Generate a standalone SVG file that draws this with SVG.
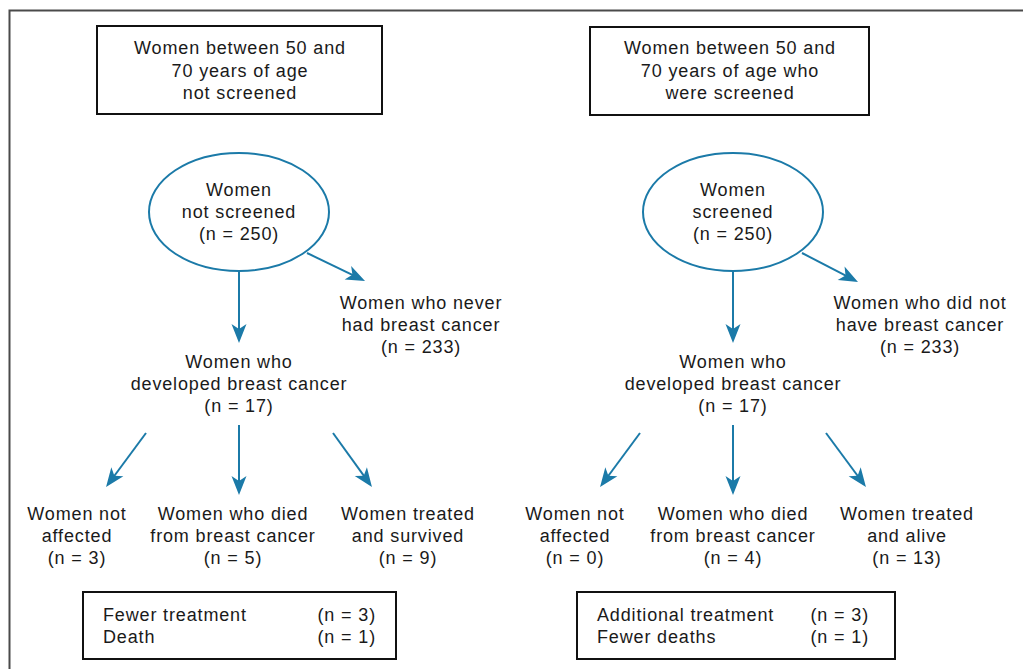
<svg xmlns="http://www.w3.org/2000/svg" width="1023" height="669" viewBox="0 0 1023 669">
<style>
text{font-family:"Liberation Sans",Arial,sans-serif;font-size:18px;letter-spacing:0.85px;fill:#1a1a1a;text-anchor:middle}
text.l{text-anchor:start}
text.r{text-anchor:end}
.box{fill:#fff;stroke:#111;stroke-width:2}
.ell{fill:#fff;stroke:#1b7aa8;stroke-width:2}
.arr{fill:none;stroke:#1b7aa8;stroke-width:2;marker-end:url(#ah)}
</style>
<defs>
<marker id="ah" viewBox="-10 -9 21 18" markerWidth="21" markerHeight="18" refX="0" refY="0" orient="auto" markerUnits="userSpaceOnUse">
<path d="M10,0 L-9,-7.5 L-4,0 L-9,7.5 Z" fill="#1b7aa8"/>
</marker>
</defs>
<rect width="1023" height="669" fill="#fff"/>
<path d="M9.5,669 V10.5 H1023" fill="none" stroke="#4a4a4a" stroke-width="2"/>

<g id="box-not-screened">
<rect class="box" x="97" y="26" width="285" height="88"/>
<text x="240" y="54">Women between 50 and</text>
<text x="240" y="76.5">70 years of age</text>
<text x="240" y="99">not screened</text>
</g>
<g id="box-screened">
<rect class="box" x="590" y="27" width="279" height="88"/>
<text x="730" y="54">Women between 50 and</text>
<text x="730" y="76.5">70 years of age who</text>
<text x="730" y="99">were screened</text>
</g>

<g id="ell-not-screened">
<ellipse class="ell" cx="239" cy="212" rx="90" ry="59"/>
<text x="239" y="196">Women</text>
<text x="239" y="218">not screened</text>
<text x="239" y="240">(n = 250)</text>
</g>
<g id="ell-screened">
<ellipse class="ell" cx="733" cy="212" rx="90" ry="59"/>
<text x="733" y="196">Women</text>
<text x="733" y="218">screened</text>
<text x="733" y="240">(n = 250)</text>
</g>

<g id="never-had">
<text x="421" y="309">Women who never</text>
<text x="421" y="331">had breast cancer</text>
<text x="421" y="353">(n = 233)</text>
</g>
<g id="did-not-have">
<text x="920" y="309">Women who did not</text>
<text x="920" y="331">have breast cancer</text>
<text x="920" y="353">(n = 233)</text>
</g>

<g id="developed-left">
<text x="239" y="368">Women who</text>
<text x="239" y="390">developed breast cancer</text>
<text x="239" y="412">(n = 17)</text>
</g>
<g id="developed-right">
<text x="733" y="368">Women who</text>
<text x="733" y="390">developed breast cancer</text>
<text x="733" y="412">(n = 17)</text>
</g>

<g id="not-affected-left">
<text x="77" y="520">Women not</text>
<text x="77" y="542">affected</text>
<text x="77" y="564">(n = 3)</text>
</g>
<g id="died-left">
<text x="233" y="520">Women who died</text>
<text x="233" y="542">from breast cancer</text>
<text x="233" y="564">(n = 5)</text>
</g>
<g id="survived-left">
<text x="408" y="520">Women treated</text>
<text x="408" y="542">and survived</text>
<text x="408" y="564">(n = 9)</text>
</g>
<g id="not-affected-right">
<text x="575" y="520">Women not</text>
<text x="575" y="542">affected</text>
<text x="575" y="564">(n = 0)</text>
</g>
<g id="died-right">
<text x="733" y="520">Women who died</text>
<text x="733" y="542">from breast cancer</text>
<text x="733" y="564">(n = 4)</text>
</g>
<g id="alive-right">
<text x="907" y="520">Women treated</text>
<text x="907" y="542">and alive</text>
<text x="907" y="564">(n = 13)</text>
</g>

<g id="summary-left">
<rect class="box" x="83" y="592" width="313" height="67"/>
<text class="l" x="103" y="621">Fewer treatment</text>
<text class="l" x="103" y="643">Death</text>
<text class="r" x="376" y="621">(n = 3)</text>
<text class="r" x="376" y="643">(n = 1)</text>
</g>
<g id="summary-right">
<rect class="box" x="577" y="592" width="318" height="67"/>
<text class="l" x="597" y="621">Additional treatment</text>
<text class="l" x="597" y="643">Fewer deaths</text>
<text class="r" x="869" y="621">(n = 3)</text>
<text class="r" x="869" y="643">(n = 1)</text>
</g>

<g id="connectors">
<path class="arr" d="M239,272 V333"/>
<path class="arr" d="M307,253 L356,276.6"/>
<path class="arr" d="M733,272 V333"/>
<path class="arr" d="M802,253 L849.1,277.4"/>
<path class="arr" d="M146,433 L112,479"/>
<path class="arr" d="M239,425 V485"/>
<path class="arr" d="M333,433 L366.1,478.9"/>
<path class="arr" d="M640,433 L606,479"/>
<path class="arr" d="M733,425 V485"/>
<path class="arr" d="M826,433 L860,479"/>
</g>
</svg>
